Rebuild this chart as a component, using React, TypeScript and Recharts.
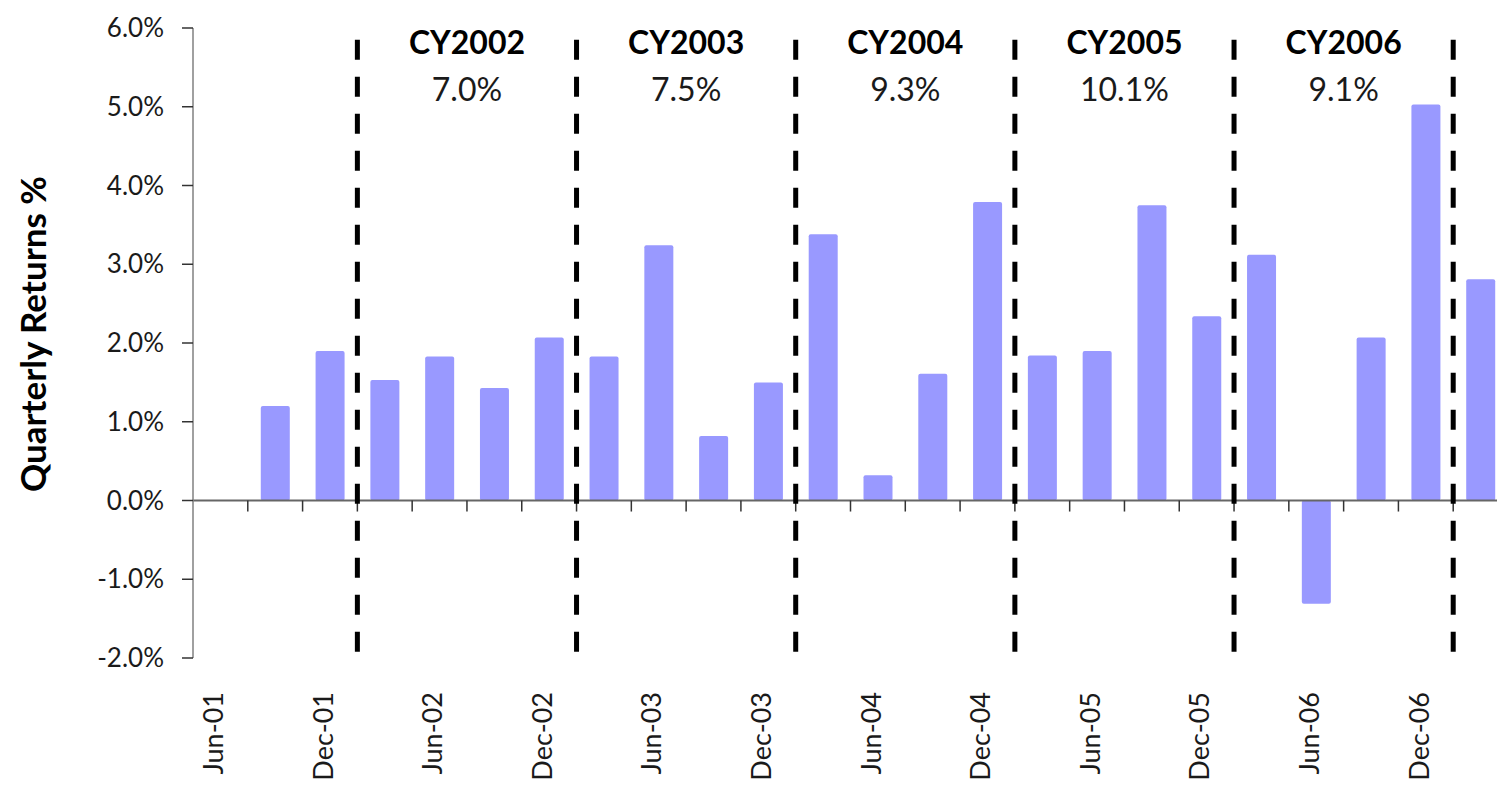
import React from 'react';
import { BarChart, Bar, XAxis, YAxis, ReferenceLine } from 'recharts';

const quarters = [
  'Jun-01', 'Sep-01', 'Dec-01',
  'Mar-02', 'Jun-02', 'Sep-02', 'Dec-02',
  'Mar-03', 'Jun-03', 'Sep-03', 'Dec-03',
  'Mar-04', 'Jun-04', 'Sep-04', 'Dec-04',
  'Mar-05', 'Jun-05', 'Sep-05', 'Dec-05',
  'Mar-06', 'Jun-06', 'Sep-06', 'Dec-06',
  'Mar-07',
];
const quarterlyReturns: (number | null)[] = [
  null, 1.2, 1.9,
  1.53, 1.83, 1.43, 2.07,
  1.83, 3.24, 0.82, 1.5,
  3.38, 0.32, 1.61, 3.79,
  1.84, 1.9, 3.75, 2.34,
  3.12, -1.31, 2.07, 5.03,
  2.81,
];
const yearLabels = ['CY2002', 'CY2003', 'CY2004', 'CY2005', 'CY2006'];
const yearReturns = ['7.0%', '7.5%', '9.3%', '10.1%', '9.1%'];
const yTicks = [-2, -1, 0, 1, 2, 3, 4, 5, 6];

const data = quarters.map((q, i) => ({ q, v: quarterlyReturns[i] }));
// year starts (first quarter of each calendar year: March)
const yearStarts = quarters
  .map((q, i) => (q.startsWith('Mar') ? i : -1))
  .filter((i) => i >= 0);
const innerBoundaries = quarters.map((_, i) => i).filter((i) => i > 0);

const FONT = 'Lato, "Open Sans", sans-serif';
const TEXT = '#1a1a1a';

const XTick = (props: any) => {
  const { x, y, payload } = props;
  const tx = x - 7;
  const ty = y + 34;
  return (
    <text
      x={tx}
      y={ty}
      dy="0.36em"
      transform={`rotate(-90, ${tx}, ${ty})`}
      textAnchor="end"
      fontFamily={FONT}
      fontSize={27}
      fill={TEXT}
    >
      {payload.value}
    </text>
  );
};

const makeYearLabel = (title: string, value: string) => (props: any) => {
  const vb = props.viewBox || {};
  const cx = vb.x;
  const cy = vb.y;
  return (
    <g>
      <text x={cx} y={cy} textAnchor="middle" dominantBaseline="central" fontFamily={FONT} fontWeight="bold" fontSize={32} fill="#000">
        {title}
      </text>
      <text x={cx} y={cy + 47} textAnchor="middle" dominantBaseline="central" fontFamily={FONT} fontSize={32} fill={TEXT}>
        {value}
      </text>
    </g>
  );
};

export default function App() {
  return (
    <div style={{ width: 1497, height: 786, overflow: 'hidden', boxSizing: 'border-box', padding: '8px 0 0 8px' }}>
      <style>{'html, body { margin: 0; padding: 0; overflow: hidden; }'}</style>
      <div style={{ width: 1489, height: 778, overflow: 'hidden' }}>
        <BarChart
          width={1512}
          height={778}
          data={data}
          margin={{ top: 20, right: 12, bottom: 0, left: 100 }}
          barSize={29}
        >
          <XAxis
            dataKey="q"
            interval={1}
            axisLine={false}
            tickLine={false}
            tickSize={0}
            tickMargin={0}
            height={128}
            tick={<XTick />}
          />
          <YAxis
            domain={[-2, 6]}
            ticks={yTicks}
            interval={0}
            width={85}
            tickSize={11}
            tickMargin={18}
            axisLine={{ stroke: '#808080', strokeWidth: 1.5 }}
            tickLine={{ stroke: '#333', strokeWidth: 1.5 }}
            tickFormatter={(v: number) => `${v.toFixed(1)}%`}
            tick={{ fontFamily: FONT, fontSize: 26, fill: TEXT }}
            label={{
              content: () => (
                <text
                  x={24}
                  y={326}
                  transform="rotate(-90, 24, 326)"
                  textAnchor="middle"
                  dominantBaseline="central"
                  fontFamily={FONT}
                  fontWeight="bold"
                  fontSize={35}
                  fill="#000"
                >
                  Quarterly Returns %
                </text>
              ),
            }}
          />
          <Bar dataKey="v" fill="#9999FF" radius={2} isAnimationActive={false} />
          <ReferenceLine y={0} stroke="#666" strokeWidth={2} />
          {innerBoundaries.map((b) => (
            <ReferenceLine
              key={`t${b}`}
              position="start"
              segment={[{ x: quarters[b], y: 0 }, { x: quarters[b], y: -0.14 }]}
              stroke="#333"
              strokeWidth={1.5}
            />
          ))}
          {yearStarts.map((b) => (
            <ReferenceLine
              key={`d${b}`}
              position="start"
              segment={[{ x: quarters[b], y: 5.85 }, { x: quarters[b], y: -1.95 }]}
              stroke="#000"
              strokeWidth={5}
              strokeDasharray="20 17"
            />
          ))}
          {yearLabels.map((label, i) => (
            <ReferenceLine
              key={label}
              position="start"
              segment={[{ x: quarters[yearStarts[i] + 2], y: 5.83 }, { x: quarters[yearStarts[i] + 2], y: 5.82 }]}
              stroke="none"
              label={makeYearLabel(label, yearReturns[i])}
            />
          ))}
        </BarChart>
      </div>
    </div>
  );
}
